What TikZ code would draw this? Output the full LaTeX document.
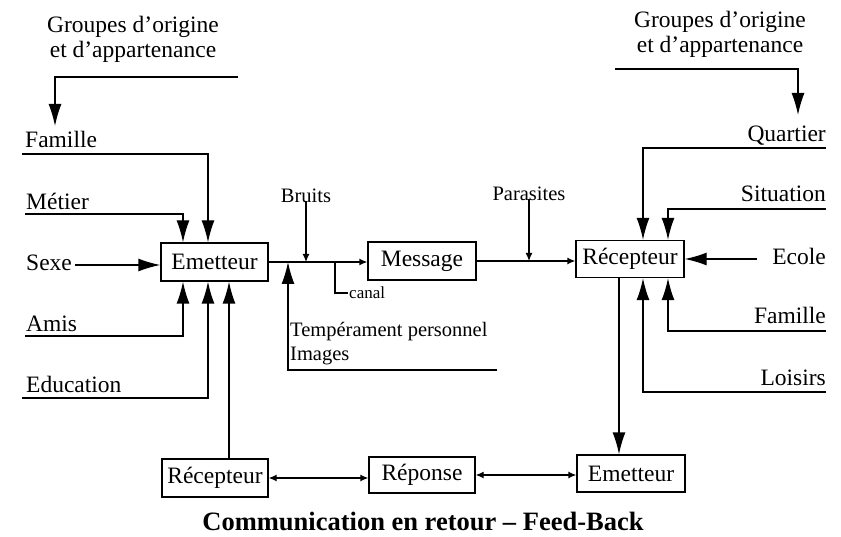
\documentclass[tikz,border=0pt]{standalone}
\usepackage{fontspec}
\setmainfont{Liberation Serif}
\usetikzlibrary{arrows.meta}
\tikzset{
  lw/.style={line width=1.3pt},
  big/.style={lw,-{Latex[length=22pt,width=13pt]}},
  small/.style={lw,-{Latex[length=8pt,width=7pt]}},
  smallboth/.style={lw,{Latex[length=8pt,width=7pt]}-{Latex[length=8pt,width=7pt]}},
  box/.style={draw,lw,inner sep=0pt,font=\fontsize{23.5}{26}\selectfont},
  lab/.style={inner sep=0pt,font=\fontsize{23.5}{26}\selectfont},
  mid/.style={inner sep=0pt,font=\fontsize{20.5}{23}\selectfont},
  tiny/.style={inner sep=0pt,font=\fontsize{17}{19}\selectfont},
}
\begin{document}
\begin{tikzpicture}[x=1pt,y=-1pt]
\useasboundingbox (0,0) rectangle (841,537);
% headings
\node[lab,anchor=base] (gl1) at (133,33) {Groupes d’origine};
\node[lab,anchor=base] (gl2) at (133,58) {et d’appartenance};
\node[lab,anchor=base] (gr1) at (720,28) {Groupes d’origine};
\node[lab,anchor=base] (gr2) at (720,53) {et d’appartenance};
% left labels
\node[lab,anchor=base west] (famL) at (25,148) {Famille};
\node[lab,anchor=base west] (met) at (26,210) {Métier};
\node[lab,anchor=base west] (sexe) at (26,271) {Sexe};
\node[lab,anchor=base west] (amis) at (26,332) {Amis};
\node[lab,anchor=base west] (edu) at (26,392) {Education};
% right labels
\node[lab,anchor=base east] (quar) at (826,142) {Quartier};
\node[lab,anchor=base east] (sit) at (826,202) {Situation};
\node[lab,anchor=base east] (ecole) at (826,265) {Ecole};
\node[lab,anchor=base east] (famR) at (826,324) {Famille};
\node[lab,anchor=base east] (lois) at (826,385) {Loisirs};
% boxes
\node[box,minimum width=107pt,minimum height=38pt] (Emet) at (214.5,262) {Emetteur};
\node[box,minimum width=108pt,minimum height=38pt] (Msg) at (422,261) {Message};
\node[box,minimum width=108pt,minimum height=37pt] (Rec) at (630,259) {Récepteur};
\node[box,minimum width=106pt,minimum height=38pt] (Rec2) at (215,478) {Récepteur};
\node[box,minimum width=106pt,minimum height=36pt] (Rep) at (422,475) {Réponse};
\node[box,minimum width=108pt,minimum height=37pt] (Emet2) at (631,473.5) {Emetteur};
% middle labels
\node[mid,anchor=base] (bruits) at (306,203) {Bruits};
\node[mid,anchor=base] (paras) at (529,201) {Parasites};
\node[mid,anchor=base west] (temp) at (290,337) {Tempérament personnel};
\node[mid,anchor=base west] (img) at (290,360) {Images};
\node[tiny,anchor=west] (canal) at (349,293) {canal};
% caption
\node[inner sep=0pt,anchor=base,font=\fontsize{26.5}{29}\selectfont\bfseries] (cap) at (423,530) {Communication en retour – Feed-Back};
% coordinates
\coordinate (glA) at (238,77);
\coordinate (glB) at (55,126);
\coordinate (grA) at (615,69);
\coordinate (grB) at (798,115);
\coordinate (famLs) at (22,154);
\coordinate (metS) at (25,214);
\coordinate (sexeS) at (75,265);
\coordinate (amisS) at (25,336);
\coordinate (eduS) at (22,398);
\coordinate (quarS) at (826,148);
\coordinate (sitS) at (826,209);
\coordinate (ecoleS) at (757,259);
\coordinate (famRS) at (826,331);
\coordinate (loisS) at (826,392);
\coordinate (tempR) at (497,370);
\coordinate (tempT) at (288,262);
\coordinate (canalT) at (335,262);
% connectors
\draw[big] (glA) -| (glB);
\draw[big] (grA) -| (grB);
\draw[big] (famLs) -| ([xshift=-6.5pt]Emet.north);
\draw[big] (metS) -| ([xshift=-31.5pt]Emet.north);
\draw[big] (sexeS) -- (sexeS -| Emet.west);
\draw[big] (amisS) -| ([xshift=-31.5pt]Emet.south);
\draw[big] (eduS) -| ([xshift=-6.5pt]Emet.south);
\draw[big] ([xshift=14pt]Rec2.north) -- ([xshift=14pt]Rec2.north |- Emet.south);
\draw[small] (Emet.east) -- (Emet.east -| Msg.west);
\draw[small] ([yshift=2pt]bruits.south) -- (bruits.south |- Emet.east);
\draw[big] (tempR) -| (tempT);
\draw[lw] (canalT) |- ([xshift=-1pt]canal.west);
\draw[small] (Msg.east) -- (Msg.east -| Rec.west);
\draw[small] ([yshift=2pt]paras.south) -- (paras.south |- Msg.east);
\draw[big] (quarS) -| ([xshift=13pt]Rec.north);
\draw[big] (sitS) -| ([xshift=38pt]Rec.north);
\draw[big] (ecoleS) -- (ecoleS -| Rec.east);
\draw[big] (famRS) -| ([xshift=38pt]Rec.south);
\draw[big] (loisS) -| ([xshift=13pt]Rec.south);
\draw[big] ([xshift=-11pt]Rec.south) -- ([xshift=-11pt]Rec.south |- Emet2.north);
\draw[smallboth] (Rec2.east) -- (Rec2.east -| Rep.west);
\draw[smallboth] (Rep.east) -- (Rep.east -| Emet2.west);
\end{tikzpicture}
\end{document}
